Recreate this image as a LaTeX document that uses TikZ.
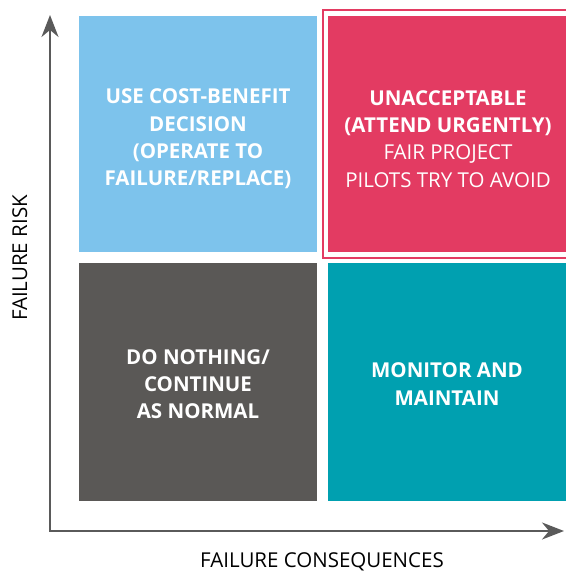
\documentclass[tikz,border=0pt]{standalone}
\usepackage{fontspec}
\setmainfont{Open Sans}
\usetikzlibrary{arrows.meta}
\definecolor{cblue}{HTML}{7DC3EC}
\definecolor{cpink}{HTML}{E33B62}
\definecolor{cdark}{HTML}{5A5856}
\definecolor{cteal}{HTML}{00A0B0}
\definecolor{caxis}{HTML}{5A5A5A}
\begin{document}
\begin{tikzpicture}[x=1pt,y=-1pt,
  quad/.style={anchor=north west, inner sep=0pt, outer sep=0pt},
  qtext/.style={align=center, text=white, inner sep=0pt, font=\fontsize{20.5}{27.3}\selectfont},
  axislbl/.style={font=\fontsize{20.5}{24}\selectfont, text=black, inner sep=0pt, anchor=base},
  axisline/.style={draw=caxis, line width=2pt, -{Stealth[length=22pt,width=17pt,inset=7pt]}}]
\useasboundingbox (0,0) rectangle (565,572);
\node[quad, fill=cblue, minimum width=238pt, minimum height=236pt] (blue) at (79,16) {};
\node[qtext, font=\fontsize{20.5}{27.3}\selectfont\bfseries] (bluet) at (198,139) {USE COST-BENEFIT\\DECISION\\(OPERATE TO\\FAILURE/REPLACE)};
\node[quad, fill=cpink, minimum width=240pt, minimum height=236pt] (pink) at (328,16) {};
\draw[draw=cpink, line width=1.5pt] (323,10) rectangle (570,258);
\node[qtext] (pinkt) at (448,139) {\textbf{UNACCEPTABLE}\\\textbf{(ATTEND URGENTLY)}\\FAIR PROJECT\\PILOTS TRY TO AVOID};
\node[quad, fill=cdark, minimum width=238pt, minimum height=238pt] (dark) at (79,263) {};
\node[qtext, font=\fontsize{20.5}{27.3}\selectfont\bfseries] (darkt) at (198,384) {DO NOTHING/\\CONTINUE\\AS NORMAL};
\node[quad, fill=cteal, minimum width=240pt, minimum height=238pt] (teal) at (328,263) {};
\node[qtext, font=\fontsize{20.5}{27.3}\selectfont\bfseries] (tealt) at (447,384) {MONITOR AND\\MAINTAIN};
\coordinate (origin) at (50,531);
\coordinate (ytip) at (50,15);
\coordinate (xtip) at (564,531);
\draw[axisline] (origin) -- (ytip);
\draw[axisline] (origin) -- (xtip);
\fill[caxis] (49,530) rectangle (51,532);
\node[axislbl, rotate=90] (ylbl) at (27,258) {FAILURE RISK};
\node[axislbl] (xlbl) at (322,567) {FAILURE CONSEQUENCES};
\end{tikzpicture}
\end{document}
